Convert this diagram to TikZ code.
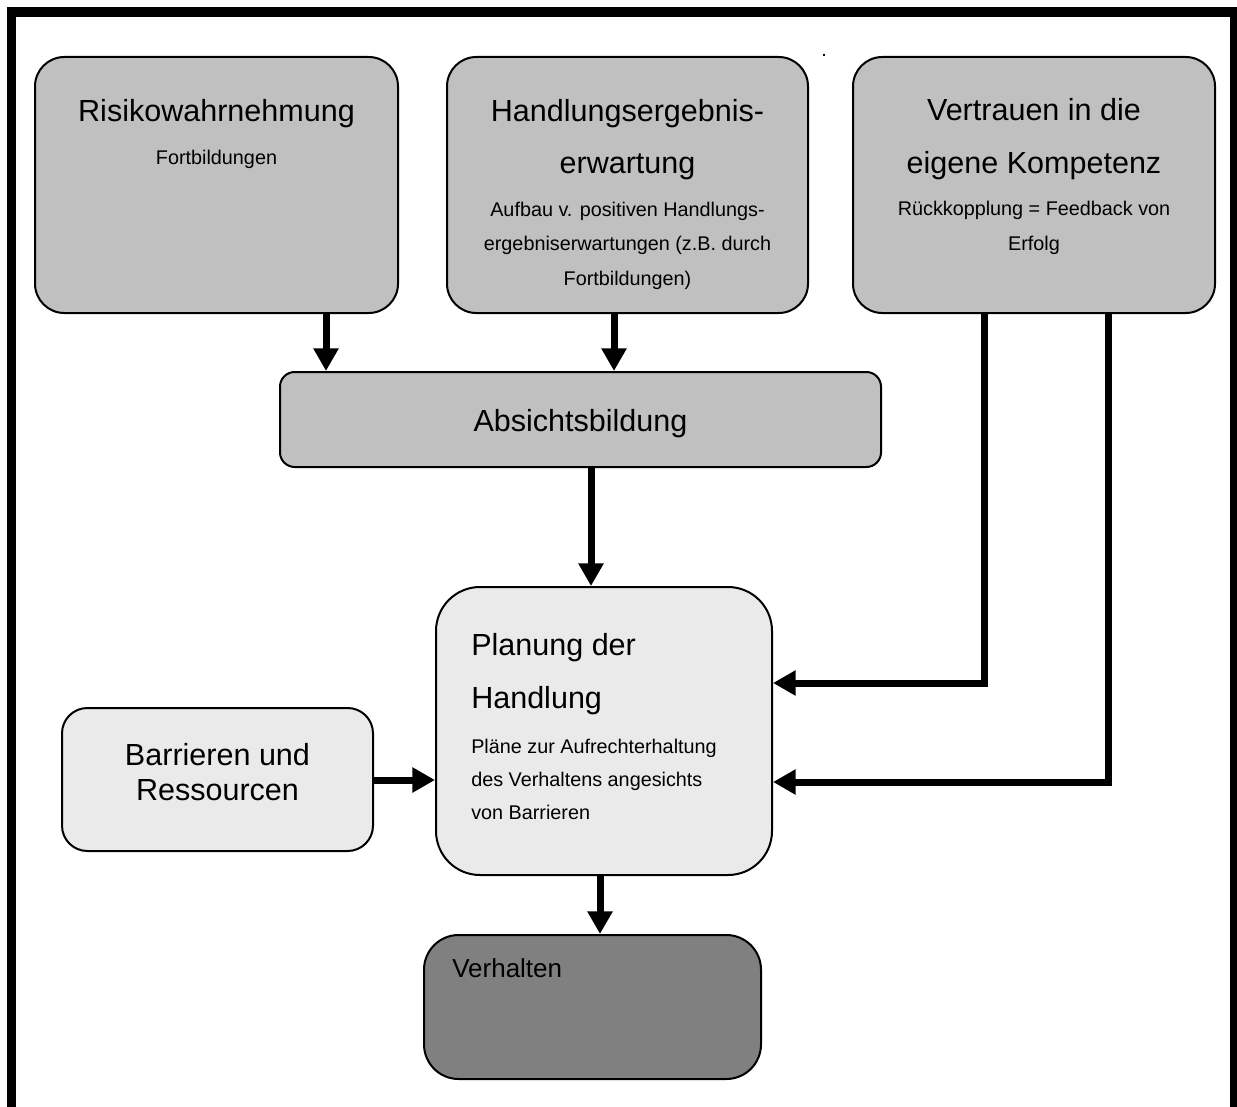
\documentclass[tikz,border=0pt]{standalone}
\usepackage{fontspec}
\setmainfont{Liberation Sans}
\usetikzlibrary{arrows.meta,fit}
\definecolor{boxgray}{RGB}{192,192,192}
\definecolor{boxlight}{RGB}{234,234,234}
\definecolor{boxdark}{RGB}{128,128,128}
\begin{document}
\begin{tikzpicture}[x=0.75pt,y=-0.75pt,
  boxbase/.style={draw=black,line width=1.5pt,inner sep=0pt},
  topbox/.style={boxbase,fill=boxgray,rounded corners=22pt},
  midbox/.style={boxbase,fill=boxgray,rounded corners=11pt},
  planbox/.style={boxbase,fill=boxlight,rounded corners=33pt},
  barrbox/.style={boxbase,fill=boxlight,rounded corners=19pt},
  verhbox/.style={boxbase,fill=boxdark,rounded corners=26pt},
  ttl/.style={font=\fontsize{22.9pt}{27pt}\selectfont,inner sep=0pt,anchor=base},
  ttlleft/.style={ttl,anchor=base west},
  subtxt/.style={font=\fontsize{14.85pt}{18pt}\selectfont,inner sep=0pt,anchor=base},
  subleft/.style={subtxt,anchor=base west},
  verhtxt/.style={font=\fontsize{19.5pt}{23pt}\selectfont,inner sep=0pt,anchor=base west},
  arr/.style={line width=5.25pt,-{Triangle[length=17pt,width=18pt]}},
  frame/.style={line width=7.2pt}
]
\useasboundingbox (0,0) rectangle (1237,1106);
\fill[white] (0,0) rectangle (1237,1106);
% frame (open at the bottom)
\draw[frame] (11.5,1120) -- (11.5,12) -- (1235,12) -- (1235,1120);

% boxes
\node[topbox, fit={(35,57) (398,313)}] (risk) {};
\node[topbox, fit={(447,57) (808,313)}] (hand) {};
\node[topbox, fit={(853,57) (1215,313)}] (vert) {};
\node[midbox, fit={(280,372) (881,467)}] (abs) {};
\node[planbox, fit={(436,587) (772,875)}] (plan) {};
\node[barrbox, fit={(62,708) (373,851)}] (barr) {};
\node[verhbox, fit={(424,935) (761,1079)}] (verh) {};

% texts
\node[ttl] (risk-t) at (216.5,121) {Risikowahrnehmung};
\node[subtxt] (risk-s) at (216.5,164) {Fortbildungen};

\node[ttl] (hand-t1) at (627.5,121) {Handlungsergebnis-};
\node[ttl] (hand-t2) at (627.5,173) {erwartung};
\node[subtxt] (hand-s1) at (627.5,216) {Aufbau v. positiven Handlungs-};
\node[subtxt] (hand-s2) at (627.5,250.5) {ergebniserwartungen (z.B. durch};
\node[subtxt] (hand-s3) at (627.5,285) {Fortbildungen)};

\node[ttl] (vert-t1) at (1034,120) {Vertrauen in die};
\node[ttl] (vert-t2) at (1034,173) {eigene Kompetenz};
\node[subtxt] (vert-s1) at (1034,215) {Rückkopplung = Feedback von};
\node[subtxt] (vert-s2) at (1034,250) {Erfolg};

\node[subtxt] (dot) at (824,56) {.};

\node[ttl] (abs-t) at (580.5,431) {Absichtsbildung};

\node[ttlleft] (plan-t1) at (471,655) {Planung der};
\node[ttlleft] (plan-t2) at (471,708) {Handlung};
\node[subleft] (plan-s1) at (471,753) {Pläne zur Aufrechterhaltung};
\node[subleft] (plan-s2) at (471,786) {des Verhaltens angesichts};
\node[subleft] (plan-s3) at (471,819) {von Barrieren};

\node[ttl] (barr-t1) at (217.5,765) {Barrieren und};
\node[ttl] (barr-t2) at (217.5,800) {Ressourcen};

\node[verhtxt] (verh-t) at (452,977) {Verhalten};

% connector positions
\coordinate (xr) at (326,0);
\coordinate (xh) at (614,0);
\coordinate (xa) at (591,0);
\coordinate (xp) at (600,0);
\coordinate (yb) at (0,780);
\coordinate (k1) at (984.5,683);
\coordinate (k2) at (1108,782);

% connectors
\draw[arr] (risk.south -| xr) -- (abs.north -| xr);
\draw[arr] (hand.south -| xh) -- (abs.north -| xh);
\draw[arr] (abs.south -| xa) -- (plan.north -| xa);
\draw[arr] (plan.south -| xp) -- (verh.north -| xp);
\draw[arr] (barr.east |- yb) -- (plan.west |- yb);
\draw[arr] (vert.south -| k1) -- (k1) -- (plan.east |- k1);
\draw[arr] (vert.south -| k2) -- (k2) -- (plan.east |- k2);
\end{tikzpicture}
\end{document}
